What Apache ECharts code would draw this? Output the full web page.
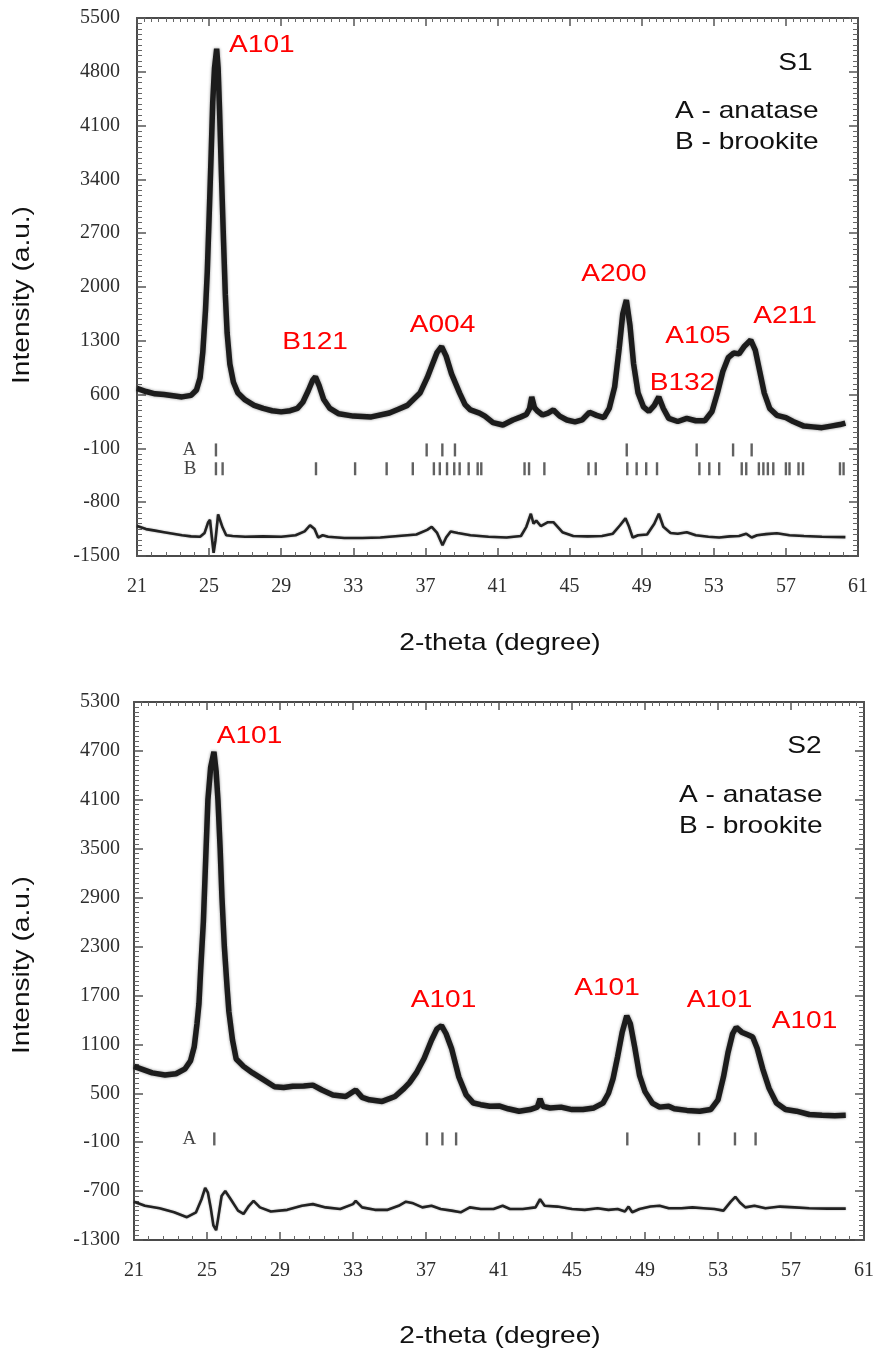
<!DOCTYPE html>
<html>
<head>
<meta charset="utf-8">
<script src="https://cdn.jsdelivr.net/npm/echarts@6/dist/echarts.min.js"></script>
<style>
  html, body { margin: 0; padding: 0; background: #fff; }
  #chart { width: 877px; height: 1354px; }
</style>
</head>
<body>
<div id="chart"></div>
<script>
// ---- Sample S1: observed pattern [2theta, intensity] ----
const s1Observed = [
  [21.0, 680], [21.5, 640], [22.0, 610], [22.5, 600], [23.0, 585], [23.5, 570], [24.0, 590],
  [24.3, 660], [24.5, 820], [24.65, 1150], [24.8, 1700], [24.9, 2200], [25.0, 2900], [25.11, 3700],
  [25.2, 4400], [25.3, 4850], [25.42, 5100], [25.5, 4850], [25.58, 4300], [25.68, 3500], [25.8, 2600],
  [25.9, 1900], [26.0, 1400], [26.15, 1000], [26.35, 760], [26.6, 620], [27.0, 530], [27.5, 460],
  [28.0, 420], [28.5, 390], [29.0, 375], [29.5, 390], [29.9, 420], [30.2, 500], [30.5, 650],
  [30.75, 790], [30.9, 830], [31.1, 720], [31.35, 540], [31.7, 420], [32.2, 350], [33.0, 320],
  [34.0, 310], [35.0, 360], [35.5, 410], [36.0, 460], [36.7, 620], [37.1, 820], [37.4, 1000],
  [37.65, 1150], [37.9, 1225], [38.15, 1100], [38.45, 870], [38.9, 620], [39.2, 470], [39.5, 400],
  [40.0, 360], [40.3, 320], [40.75, 235], [41.3, 205], [41.85, 270], [42.3, 310], [42.6, 340],
  [42.78, 420], [42.9, 570], [43.05, 430], [43.2, 390], [43.5, 335], [43.8, 360], [44.1, 400],
  [44.45, 320], [44.85, 270], [45.3, 245], [45.7, 270], [46.1, 370], [46.5, 330], [46.9, 300],
  [47.2, 420], [47.5, 700], [47.75, 1200], [47.95, 1650], [48.15, 1830], [48.35, 1500], [48.55, 1000],
  [48.8, 620], [49.1, 440], [49.4, 380], [49.7, 460], [49.95, 570], [50.2, 420], [50.5, 290],
  [51.0, 250], [51.5, 290], [52.0, 260], [52.5, 260], [52.9, 380], [53.2, 620], [53.5, 900],
  [53.8, 1080], [54.1, 1140], [54.4, 1130], [54.7, 1230], [55.05, 1310], [55.3, 1180], [55.55, 900],
  [55.8, 620], [56.1, 420], [56.5, 330], [57.0, 300], [57.4, 250], [58.0, 190], [58.5, 180],
  [59.0, 170], [59.5, 190], [60.0, 210], [60.3, 230]
];

// ---- Sample S1: difference curve ----
const s1Difference = [
  [21.0, -1110], [21.5, -1150], [22.0, -1170], [22.5, -1190], [23.0, -1210], [23.5, -1230],
  [24.0, -1245], [24.5, -1250], [24.75, -1200], [24.95, -1060], [25.05, -1030], [25.15, -1250],
  [25.25, -1460], [25.35, -1300], [25.5, -960], [25.6, -940], [25.75, -1130], [25.95, -1230],
  [26.3, -1240], [27.0, -1250], [28.0, -1245], [29.0, -1250], [29.8, -1230], [30.3, -1180],
  [30.6, -1100], [30.85, -1150], [31.05, -1260], [31.3, -1230], [31.6, -1250], [32.5, -1265],
  [33.5, -1265], [34.5, -1260], [35.5, -1240], [36.5, -1220], [37.1, -1160], [37.35, -1120],
  [37.65, -1200], [37.95, -1360], [38.15, -1260], [38.4, -1180], [38.8, -1200], [39.5, -1230],
  [40.5, -1250], [41.5, -1260], [42.3, -1240], [42.6, -1120], [42.85, -950], [43.0, -1080],
  [43.15, -1040], [43.4, -1110], [43.8, -1060], [44.1, -1060], [44.6, -1190], [45.2, -1240],
  [46.0, -1245], [46.8, -1240], [47.4, -1210], [47.8, -1100], [48.1, -1010], [48.3, -1120],
  [48.5, -1260], [48.8, -1230], [49.3, -1220], [49.7, -1080], [49.95, -950], [50.2, -1120],
  [50.6, -1200], [51.0, -1210], [51.5, -1190], [52.0, -1230], [52.7, -1250], [53.3, -1260],
  [53.9, -1245], [54.4, -1240], [54.8, -1210], [55.1, -1260], [55.4, -1230], [55.9, -1215],
  [56.5, -1205], [57.2, -1230], [58.0, -1240], [59.0, -1250], [60.3, -1255]
];

// ---- Sample S1: reflection positions ----
const s1AnataseRefl = [25.38, 37.07, 37.94, 38.64, 48.17, 52.05, 54.07, 55.1];
const s1BrookiteRefl = [25.38, 25.75, 30.93, 33.1, 34.85, 36.3, 37.47, 37.8, 38.2, 38.6, 38.9, 39.4,
  39.9, 40.1, 42.5, 42.75, 43.6, 46.05, 46.45, 48.2, 48.72, 49.25, 49.85, 52.2, 52.75, 53.3, 54.55,
  54.8, 55.5, 55.75, 56.0, 56.3, 57.0, 57.2, 57.7, 57.95, 60.0, 60.2];
const s1AnataseRow = -120;
const s1BrookiteRow = -365;

// ---- Sample S2: observed pattern ----
const s2Observed = [
  [21.0, 830], [21.5, 790], [22.0, 750], [22.7, 725], [23.3, 740], [23.8, 800], [24.1, 900],
  [24.3, 1070], [24.45, 1350], [24.56, 1600], [24.65, 2000], [24.8, 2600], [24.95, 3500],
  [25.05, 4100], [25.2, 4500], [25.38, 4690], [25.5, 4450], [25.6, 4100], [25.72, 3500],
  [25.82, 2900], [25.95, 2300], [26.1, 1800], [26.2, 1500], [26.4, 1150], [26.6, 920], [27.0, 830],
  [27.5, 750], [28.0, 680], [28.7, 580], [29.2, 570], [29.7, 585], [30.3, 590], [30.8, 600],
  [31.3, 540], [31.9, 480], [32.6, 460], [33.15, 540], [33.5, 450], [33.9, 420], [34.6, 400],
  [35.3, 460], [35.8, 560], [36.1, 630], [36.5, 760], [36.9, 930], [37.3, 1150], [37.6, 1290],
  [37.85, 1330], [38.1, 1230], [38.4, 1050], [38.8, 700], [39.2, 480], [39.6, 380], [40.0, 360],
  [40.5, 340], [41.0, 345], [41.5, 310], [42.1, 280], [42.7, 300], [43.1, 330], [43.25, 430],
  [43.4, 340], [43.8, 320], [44.4, 330], [45.0, 300], [45.6, 300], [46.2, 320], [46.7, 380],
  [47.0, 500], [47.25, 680], [47.5, 950], [47.75, 1250], [48.0, 1450], [48.2, 1350], [48.45, 1050],
  [48.7, 720], [49.0, 520], [49.4, 380], [49.8, 330], [50.3, 340], [50.6, 310], [51.3, 290],
  [52.0, 280], [52.6, 300], [53.0, 420], [53.3, 700], [53.55, 1000], [53.8, 1230], [54.0, 1310],
  [54.3, 1250], [54.6, 1220], [54.9, 1190], [55.15, 1050], [55.45, 800], [55.8, 560], [56.2, 380],
  [56.7, 300], [57.3, 280], [58.0, 240], [58.7, 230], [59.4, 225], [60.0, 230]
];

// ---- Sample S2: difference curve ----
const s2Difference = [
  [21.0, -830], [21.6, -880], [22.4, -910], [23.2, -960], [23.9, -1020], [24.4, -960], [24.7, -800],
  [24.9, -660], [25.05, -720], [25.2, -900], [25.35, -1120], [25.5, -1180], [25.6, -1050],
  [25.8, -760], [26.0, -700], [26.3, -800], [26.7, -940], [27.0, -980], [27.3, -880], [27.55, -820],
  [27.9, -900], [28.5, -950], [29.4, -930], [30.2, -880], [30.8, -860], [31.5, -900], [32.3, -920],
  [33.0, -860], [33.15, -820], [33.5, -900], [34.2, -930], [34.9, -930], [35.5, -880], [35.9, -830],
  [36.3, -850], [36.8, -900], [37.3, -880], [37.8, -920], [38.4, -940], [38.9, -960], [39.4, -900],
  [40.0, -920], [40.7, -920], [41.2, -880], [41.6, -920], [42.3, -920], [43.0, -900], [43.25, -800],
  [43.5, -880], [44.2, -890], [45.0, -920], [45.7, -930], [46.4, -910], [47.0, -930], [47.5, -920],
  [47.9, -950], [48.1, -890], [48.3, -960], [48.7, -920], [49.3, -890], [49.8, -880], [50.3, -910],
  [51.0, -910], [51.6, -900], [52.2, -910], [52.8, -920], [53.3, -940], [53.7, -830], [53.95, -770],
  [54.2, -840], [54.5, -900], [55.0, -880], [55.6, -910], [56.4, -890], [57.2, -900], [58.0, -910],
  [59.0, -915], [60.0, -915]
];

// ---- Sample S2: reflection positions ----
const s2AnataseRefl = [25.4, 37.05, 37.9, 38.65, 48.03, 51.96, 53.93, 55.06];
const s2AnataseRow = -60;

// ---- Axis tick settings ----
const xTicks = { min: 21, max: 61, step: 4 };
const s1YTicks = { min: -1500, max: 5500, step: 700 };
const s2YTicks = { min: -1300, max: 5300, step: 600 };

// ---- Text annotations, anchored in data coordinates ----
const s1Notes = [
  { text: 'A101', at: [27.93, 5149], color: '#ff0000' },
  { text: 'B121', at: [30.88, 1278], color: '#ff0000' },
  { text: 'A004', at: [37.95, 1506], color: '#ff0000' },
  { text: 'A200', at: [47.46, 2163], color: '#ff0000' },
  { text: 'A105', at: [52.12, 1356], color: '#ff0000' },
  { text: 'A211', at: [56.95, 1616], color: '#ff0000' },
  { text: 'B132', at: [51.26, 745], color: '#ff0000' },
  { text: 'S1', at: [57.53, 4908], color: '#111' },
  { text: 'A - anatase', at: [50.85, 4290], color: '#111', align: 'left' },
  { text: 'B - brookite', at: [50.85, 3887], color: '#111', align: 'left' }
];
const s1RowLabels = [
  { text: 'A', at: [23.91, s1AnataseRow] },
  { text: 'B', at: [23.94, s1BrookiteRow] }
];
const s2Notes = [
  { text: 'A101', at: [27.33, 4877], color: '#ff0000' },
  { text: 'A101', at: [37.96, 1644], color: '#ff0000' },
  { text: 'A101', at: [46.92, 1785], color: '#ff0000' },
  { text: 'A101', at: [53.08, 1644], color: '#ff0000' },
  { text: 'A101', at: [57.74, 1380], color: '#ff0000' },
  { text: 'S2', at: [57.74, 4754], color: '#111' },
  { text: 'A - anatase', at: [50.86, 4153], color: '#111', align: 'left' },
  { text: 'B - brookite', at: [50.86, 3779], color: '#111', align: 'left' }
];
const s2RowLabels = [
  { text: 'A', at: [24.04, s2AnataseRow] }
];

// ---------------------------------------------------------------
const AXIS_COLOR = '#4a4a4a';
const TICK_FONT = 'Liberation Serif';
const TICK_COLOR = '#2e2e2e';
const TEXT_FONT = '"Liberation Sans", Arial, sans-serif';
const TEXT_SIZE = 24;
const TEXT_STRETCH = 1.17;

function xAxes(gridIndex) {
  const base = {
    type: 'value', gridIndex: gridIndex, min: xTicks.min, max: xTicks.max, interval: xTicks.step,
    axisLine: { show: true, onZero: false, lineStyle: { color: AXIS_COLOR, width: 2 } },
    axisTick: { show: true, inside: true, length: 8, lineStyle: { color: '#555', width: 1.5 } },
    splitLine: { show: false }
  };
  return [
    Object.assign({}, base, {
      position: 'bottom',
      minorTick: { show: true, splitNumber: 5, length: 4, lineStyle: { color: '#666', width: 1 } },
      axisLabel: { fontFamily: TICK_FONT, fontSize: 20, color: TICK_COLOR, margin: 21, formatter: v => String(v) }
    }),
    Object.assign({}, base, {
      position: 'top',
      minorTick: { show: true, splitNumber: 10, length: 4, lineStyle: { color: '#666', width: 1 } },
      axisLabel: { show: false }
    })
  ];
}

function yAxes(gridIndex, ticks, margin) {
  const base = {
    type: 'value', gridIndex: gridIndex, min: ticks.min, max: ticks.max, interval: ticks.step,
    axisLine: { show: true, onZero: false, lineStyle: { color: AXIS_COLOR, width: 2 } },
    axisTick: { show: true, inside: true, length: 9, lineStyle: { color: '#555', width: 1.5 } },
    minorTick: { show: true, splitNumber: 10, length: 5, lineStyle: { color: '#666', width: 1 } },
    splitLine: { show: false }
  };
  return [
    Object.assign({}, base, {
      position: 'left',
      axisLabel: { fontFamily: TICK_FONT, fontSize: 20, color: TICK_COLOR, margin: margin, formatter: v => String(v) }
    }),
    Object.assign({}, base, { position: 'right', axisLabel: { show: false } })
  ];
}

function patternSeries(xIdx, yIdx, observed, difference) {
  return [
    {
      type: 'line', xAxisIndex: xIdx, yAxisIndex: yIdx, data: observed, showSymbol: false,
      symbol: 'none', lineStyle: { color: '#1c1c1c', width: 5.5, shadowBlur: 3, shadowColor: 'rgba(0,0,0,0.45)' },
      z: 3, animation: false
    },
    {
      type: 'line', xAxisIndex: xIdx, yAxisIndex: yIdx, data: difference, showSymbol: false,
      symbol: 'none', lineStyle: { color: '#222', width: 2.6, shadowBlur: 2, shadowColor: 'rgba(0,0,0,0.35)' },
      z: 3, animation: false
    }
  ];
}

function reflectionSeries(xIdx, yIdx, positions, row) {
  return {
    type: 'scatter', xAxisIndex: xIdx, yAxisIndex: yIdx,
    data: positions.map(p => [p, row]),
    symbol: 'rect', symbolSize: [2.4, 13],
    itemStyle: { color: '#3a3a3a' }, z: 2, animation: false
  };
}

const chart = echarts.init(document.getElementById('chart'), null, { renderer: 'canvas' });

const option = {
  backgroundColor: '#ffffff',
  animation: false,
  grid: [
    { left: 137, top: 18, width: 721, height: 538, containLabel: false },
    { left: 134, top: 702, width: 730, height: 538, containLabel: false }
  ],
  xAxis: [].concat(xAxes(0), xAxes(1)),
  yAxis: [].concat(yAxes(0, s1YTicks, 17), yAxes(1, s2YTicks, 14)),
  series: [].concat(
    patternSeries(0, 0, s1Observed, s1Difference),
    [reflectionSeries(0, 0, s1AnataseRefl, s1AnataseRow),
     reflectionSeries(0, 0, s1BrookiteRefl, s1BrookiteRow)],
    patternSeries(2, 2, s2Observed, s2Difference),
    [reflectionSeries(2, 2, s2AnataseRefl, s2AnataseRow)]
  )
};
chart.setOption(option);

// Place text annotations through the axes' own coordinate conversion.
function noteGraphics(notes, xIdx, yIdx) {
  return notes.map(n => {
    const p = chart.convertToPixel({ xAxisIndex: xIdx, yAxisIndex: yIdx }, n.at);
    return {
      type: 'text', x: p[0], y: p[1], scaleX: TEXT_STRETCH, z: 10,
      style: {
        text: n.text, fill: n.color, font: TEXT_SIZE + 'px ' + TEXT_FONT,
        align: n.align || 'center', verticalAlign: 'middle'
      }
    };
  });
}
function rowLabelGraphics(labels, xIdx, yIdx) {
  return labels.map(l => {
    const p = chart.convertToPixel({ xAxisIndex: xIdx, yAxisIndex: yIdx }, l.at);
    return {
      type: 'text', x: p[0], y: p[1], z: 10,
      style: {
        text: l.text, fill: '#444', font: '19px "Liberation Serif", serif',
        align: 'center', verticalAlign: 'middle'
      }
    };
  });
}
function axisTitle(text, x, y, vertical) {
  return {
    type: 'text', x: x, y: y, rotation: vertical ? Math.PI / 2 : 0, scaleX: TEXT_STRETCH, z: 10,
    style: { text: text, fill: '#111', font: TEXT_SIZE + 'px ' + TEXT_FONT, align: 'center', verticalAlign: 'middle' }
  };
}

chart.setOption({
  graphic: [].concat(
    noteGraphics(s1Notes, 0, 0),
    rowLabelGraphics(s1RowLabels, 0, 0),
    noteGraphics(s2Notes, 2, 2),
    rowLabelGraphics(s2RowLabels, 2, 2),
    [
      axisTitle('Intensity (a.u.)', 22, 295, true),
      axisTitle('2-theta (degree)', 500, 643, false),
      axisTitle('Intensity (a.u.)', 22, 965, true),
      axisTitle('2-theta (degree)', 500, 1336, false)
    ]
  )
});
</script>
</body>
</html>
